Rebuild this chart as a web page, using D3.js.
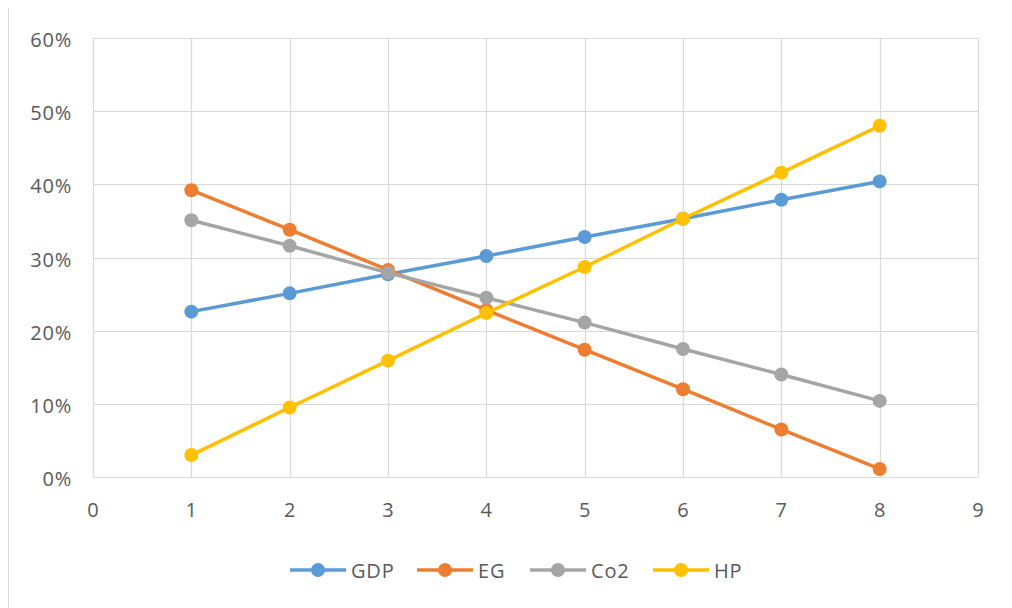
<!DOCTYPE html>
<html><head><meta charset="utf-8">
<script src="https://cdn.jsdelivr.net/npm/d3@7"></script>
<style>body{margin:0;background:#fff}svg{display:block}</style>
</head><body>
<svg id="c" width="1012" height="608"></svg>
<script>
const xValues = [1,2,3,4,5,6,7,8];
const seriesNames = ["GDP","EG","Co2","HP"];
const gdp = [0.226,0.251,0.277,0.302,0.328,0.353,0.379,0.404];
const eg  = [0.392,0.338,0.283,0.228,0.174,0.120,0.065,0.011];
const co2 = [0.351,0.316,0.279,0.245,0.211,0.175,0.140,0.104];
const hp  = [0.030,0.095,0.159,0.224,0.287,0.353,0.416,0.480];
const yTicks = [0,0.1,0.2,0.3,0.4,0.5,0.6];
const xTicks = [0,1,2,3,4,5,6,7,8,9];
const colors = ["#5B9BD5","#ED7D31","#A5A5A5","#FFC000"];
const allSeries = [gdp,eg,co2,hp];

const svg = d3.select("#c");
const font = "'Open Sans', 'Liberation Sans', sans-serif";
const fs = 20, ls = 0.8;
const x = d3.scaleLinear().domain([0,9]).range([93,978]);
const y = d3.scaleLinear().domain([0,0.6]).range([477,38]);

// outer frame line
svg.append("line").attr("x1",8.5).attr("x2",8.5).attr("y1",8).attr("y2",608)
  .attr("stroke","#d9d9d9").attr("stroke-width",1);

// gridlines
svg.append("g").selectAll("line").data(yTicks).join("line")
  .attr("x1",x(0)).attr("x2",x(9)).attr("y1",d=>Math.round(y(d))+0.5).attr("y2",d=>Math.round(y(d))+0.5)
  .attr("stroke","#d9d9d9").attr("stroke-width",1.2);
svg.append("g").selectAll("line").data(xTicks).join("line")
  .attr("y1",y(0)).attr("y2",y(0.6)).attr("x1",d=>Math.round(x(d))+0.5).attr("x2",d=>Math.round(x(d))+0.5)
  .attr("stroke","#d9d9d9").attr("stroke-width",1.2);

// axis labels
svg.append("g").selectAll("text").data(yTicks).join("text")
  .attr("x",72).attr("y",d=>y(d)+2).attr("dy","0.35em").attr("text-anchor","end")
  .attr("font-family",font).attr("font-size",fs).attr("letter-spacing",ls).attr("fill","#595959")
  .text(d=>d3.format(".0%")(d));
svg.append("g").selectAll("text").data(xTicks).join("text")
  .attr("x",d=>x(d)).attr("y",510).attr("dy","0.35em").attr("text-anchor","middle")
  .attr("font-family",font).attr("font-size",fs).attr("fill","#595959")
  .text(d=>d);

// series
const line = d3.line().x((d,i)=>x(xValues[i])).y(d=>y(d));
allSeries.forEach((s,k)=>{
  const g = svg.append("g");
  g.append("path").datum(s).attr("d",line).attr("fill","none")
    .attr("stroke",colors[k]).attr("stroke-width",3.5).attr("stroke-linejoin","round");
  g.selectAll("circle").data(s).join("circle")
    .attr("cx",(d,i)=>x(xValues[i])).attr("cy",d=>y(d)).attr("r",7)
    .attr("fill",colors[k]);
});

// legend
const legX = [290,417,530,653];
const lg = svg.append("g");
seriesNames.forEach((n,k)=>{
  const lx = legX[k];
  lg.append("line").attr("x1",lx).attr("x2",lx+56).attr("y1",570).attr("y2",570)
    .attr("stroke",colors[k]).attr("stroke-width",3.5);
  lg.append("circle").attr("cx",lx+28).attr("cy",570).attr("r",7).attr("fill",colors[k]);
  lg.append("text").attr("x",lx+61).attr("y",571).attr("dy","0.35em")
    .attr("font-family",font).attr("font-size",fs).attr("letter-spacing",ls).attr("fill","#595959").text(n);
});
</script>
</body></html>
